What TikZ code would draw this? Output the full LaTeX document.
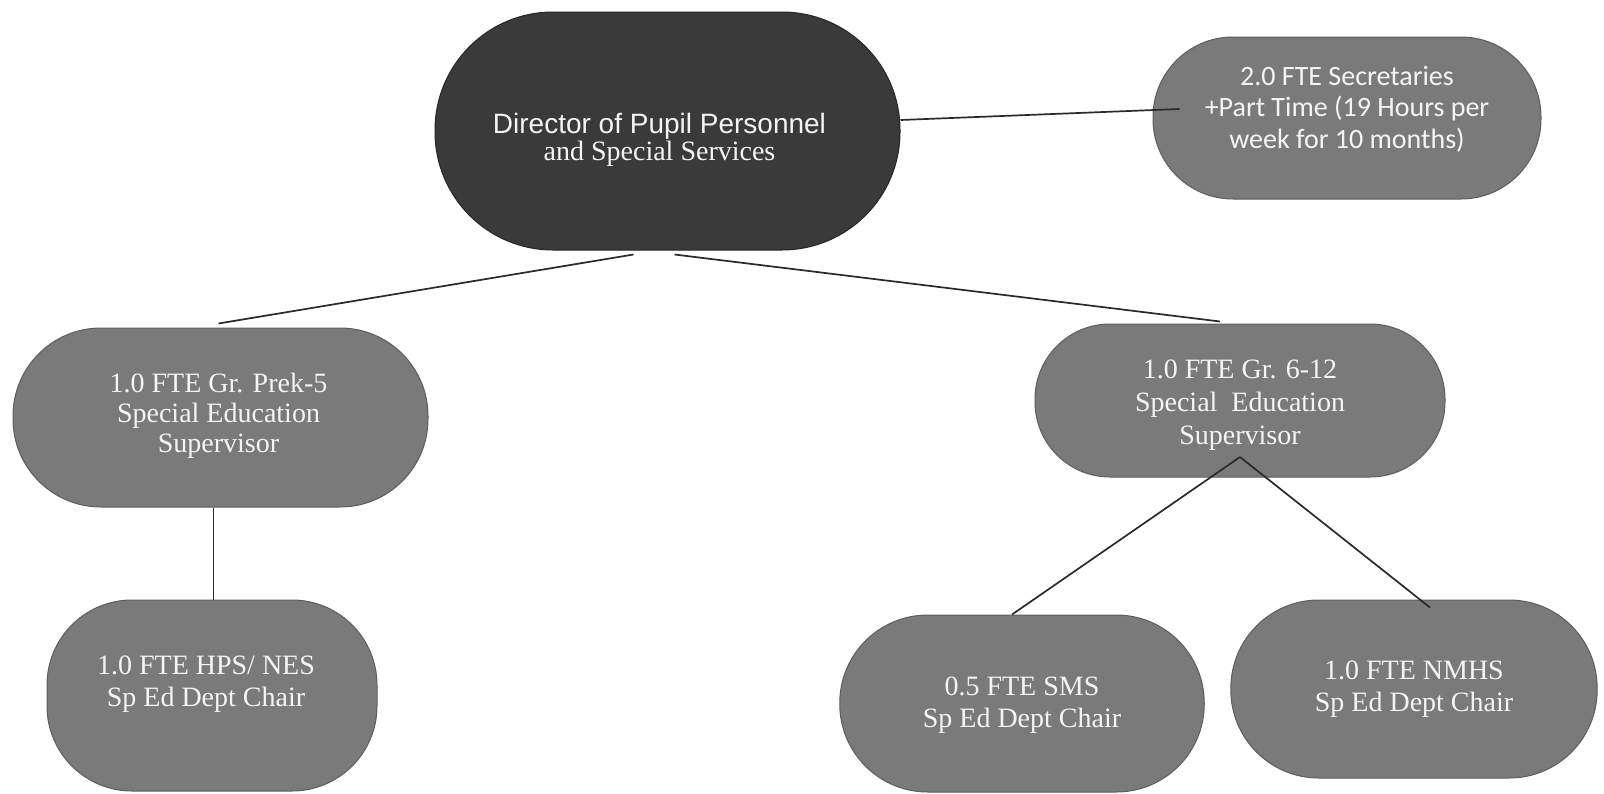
\documentclass[tikz,border=0pt]{standalone}
\usepackage{fontspec}
\setmainfont{Liberation Serif}
\newfontfamily\headsans{Liberation Sans}
\newfontfamily\secfont{Carlito}
\definecolor{darkfill}{HTML}{3A3A3A}
\definecolor{darkedge}{HTML}{262626}
\definecolor{midfill}{HTML}{7A7A7A}
\definecolor{midedge}{HTML}{5E5E5E}
\definecolor{boxtext}{HTML}{F4F4F4}
\definecolor{wire}{HTML}{2A2A2A}
\begin{document}
\begin{tikzpicture}[x=1pt,y=-1pt,
  pill/.style={rectangle, inner sep=0pt, fill=midfill, draw=midedge, line width=1pt},
  headpill/.style={pill, fill=darkfill, draw=darkedge},
  caption/.style={inner sep=0pt, align=center, text=boxtext,
    font=\fontsize{28}{32}\selectfont},
  link/.style={draw=wire, line width=1.7pt}
]
\useasboundingbox[fill=white] (0,0) rectangle (1604,793);

% shapes
\node[headpill, minimum width=465pt, minimum height=238pt, rounded corners=118pt] (dir) at (667.5,131) {};
\node[pill, minimum width=388pt, minimum height=162pt, rounded corners=80pt] (sec) at (1347,118) {};
\node[pill, minimum width=415pt, minimum height=179pt, rounded corners=88pt] (prek) at (220.5,417.5) {};
\node[pill, minimum width=410pt, minimum height=153pt, rounded corners=75pt] (upper) at (1240,400.5) {};
\node[pill, minimum width=330pt, minimum height=191pt, rounded corners=85pt] (hps) at (212,695.5) {};
% the two lower right boxes have wider, elliptical ends
\node[pill, xscale=1.35, minimum width=270pt, minimum height=177pt, rounded corners=88pt] (sms) at (1022,703.5) {};
\node[pill, xscale=1.1, minimum width=333pt, minimum height=178pt, rounded corners=88pt] (nmhs) at (1414,689) {};

% texts
\node[caption, font=\fontsize{28}{27}\selectfont] (dir-t) at ([shift={(-8,9)}]dir.center)
  {{\headsans Director of Pupil Personnel}\\and Special Services};
\node[caption, font=\secfont\fontsize{28}{31.5}\selectfont] (sec-t) at ([shift={(0,-9)}]sec.center)
  {2.0 FTE Secretaries\\+Part Time (19 Hours per\\week for 10 months)};
\node[caption, font=\fontsize{28}{30}\selectfont] (prek-t) at ([shift={(-2,-2)}]prek.center)
  {1.0 FTE Gr. Prek-5\\Special Education\\Supervisor};
\node[caption, font=\fontsize{28}{33}\selectfont] (upper-t) at ([shift={(0,5)}]upper.center)
  {1.0 FTE Gr. 6-12\\Special\ \ Education\\Supervisor};
\node[caption] (hps-t) at ([shift={(-6,-11)}]hps.center)
  {1.0 FTE HPS/ NES\\Sp Ed Dept Chair};
\node[caption] (sms-t) at ([shift={(0,2)}]sms.center)
  {0.5 FTE SMS\\Sp Ed Dept Chair};
\node[caption] (nmhs-t) at (nmhs.center)
  {1.0 FTE NMHS\\Sp Ed Dept Chair};

% reporting lines
\draw[link] ([shift={(0,-11)}]dir.east) -- ([shift={(27,-9)}]sec.west);
\draw[link] ([shift={(-34,4)}]dir.south) -- ([shift={(-2,-4)}]prek.north);
\draw[link] ([shift={(7,4)}]dir.south) -- ([shift={(-20,-2)}]upper.north);
\draw[link] ([xshift=-7pt]prek.south) -- ([xshift=-7pt]prek.south |- hps.north);
\coordinate (split) at ([shift={(0,56.5)}]upper.center);
\draw[link] (split) -- ([shift={(-10,0)}]sms.north);
\draw[link] (split) -- ([shift={(16,8)}]nmhs.north);
\end{tikzpicture}
\end{document}
